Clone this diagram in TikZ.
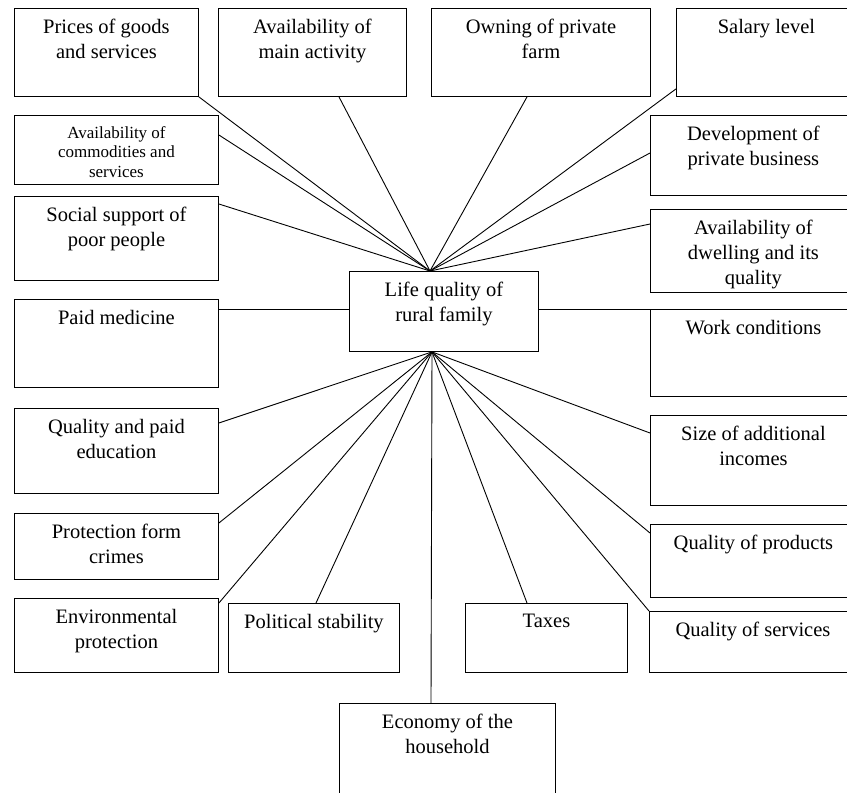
\documentclass[tikz,border=0pt]{standalone}
\usepackage{fontspec}
\setmainfont{Liberation Serif}

\begin{document}
\begin{tikzpicture}[x=1pt, y=-1pt,
  factor/.style 2 args={draw, line width=0.9pt, anchor=north west, inner sep=0pt,
    font=\fontsize{20.5}{25}\selectfont,
    execute at begin node={\begin{minipage}[t][#2][t]{#1}\centering\vspace*{11pt}},
    execute at end node={\end{minipage}}},
  small/.style={font=\fontsize{17}{19.5}\selectfont},
  link/.style={line width=0.9pt}
]
  \useasboundingbox (0,0) rectangle (847,793);
  \clip (0,0) rectangle (847,793);

  \node[factor={184pt}{88pt}] (prices) at (14,8) {Prices of goods\\and services};
  \node[factor={188pt}{88pt}] (mainact) at (218,8) {Availability of\\main activity};
  \node[factor={219pt}{88pt}] (farm) at (431,8) {Owning of private\\farm};
  \node[factor={180pt}{88pt}] (salary) at (676,8) {Salary level};
  \node[factor={204pt}{69pt}, small] (goods) at (14,115)
    {Availability of\\commodities and\\services};
  \node[factor={206pt}{80pt}] (business) at (650,115) {Development of\\private business};
  \node[factor={204pt}{84pt}] (support) at (14,196) {Social support of\\poor people};
  \node[factor={206pt}{83pt}] (dwelling) at (650,209)
    {Availability of\\dwelling and its\\quality};
  \node[factor={189pt}{80pt}] (life) at (349,271) {Life quality of\\rural family};
  \node[factor={204pt}{88pt}] (medicine) at (14,299) {Paid medicine};
  \node[factor={206pt}{87pt}] (work) at (650,309) {Work conditions};
  \node[factor={204pt}{85pt}] (education) at (14,408) {Quality and paid\\education};
  \node[factor={206pt}{90pt}] (incomes) at (650,415) {Size of additional\\incomes};
  \node[factor={204pt}{66pt}] (crimes) at (14,513) {Protection form\\crimes};
  \node[factor={206pt}{73pt}] (products) at (650,524) {Quality of products};
  \node[factor={204pt}{74pt}] (ecology) at (14,598) {Environmental\\protection};
  \node[factor={171pt}{69pt}] (politics) at (228,603) {Political stability};
  \node[factor={162pt}{69pt}] (taxes) at (465,603) {Taxes};
  \node[factor={207pt}{61pt}] (services) at (649,611) {Quality of services};
  \node[factor={216pt}{110pt}] (household) at (339,703) {Economy of the\\household};

  \coordinate (up) at ([xshift=81pt]life.north west);
  \coordinate (down) at ([xshift=83pt]life.south west);

  \draw[link] (prices.south east) -- (up);
  \draw[link] ([xshift=121pt]mainact.south west) -- (up);
  \draw[link] ([xshift=96pt]farm.south west) -- (up);
  \draw[link] ([yshift=8pt]salary.south west) -- (up);
  \draw[link] ([yshift=-20pt]goods.north east) -- (up);
  \draw[link] ([yshift=-38pt]business.north west) -- (up);
  \draw[link] ([yshift=-8pt]support.north east) -- (up);
  \draw[link] ([yshift=-15pt]dwelling.north west) -- (up);
  \draw[link] (medicine.east |- work.north) -- (life.west |- work.north);
  \draw[link] (life.east |- work.north) -- (work.north west);
  \draw[link] ([yshift=-15pt]education.north east) -- (down);
  \draw[link] ([yshift=-10pt]crimes.north east) -- (down);
  \draw[link] ([yshift=-5pt]ecology.north east) -- (down);
  \draw[link] ([xshift=88pt]politics.north west) -- (down);
  \draw[link] ([xshift=92pt]household.north west) -- (down);
  \draw[link] ([xshift=62pt]taxes.north west) -- (down);
  \draw[link] (services.north west) -- (down);
  \draw[link] ([yshift=-9pt]products.north west) -- (down);
  \draw[link] ([yshift=-18pt]incomes.north west) -- (down);
\end{tikzpicture}
\end{document}
